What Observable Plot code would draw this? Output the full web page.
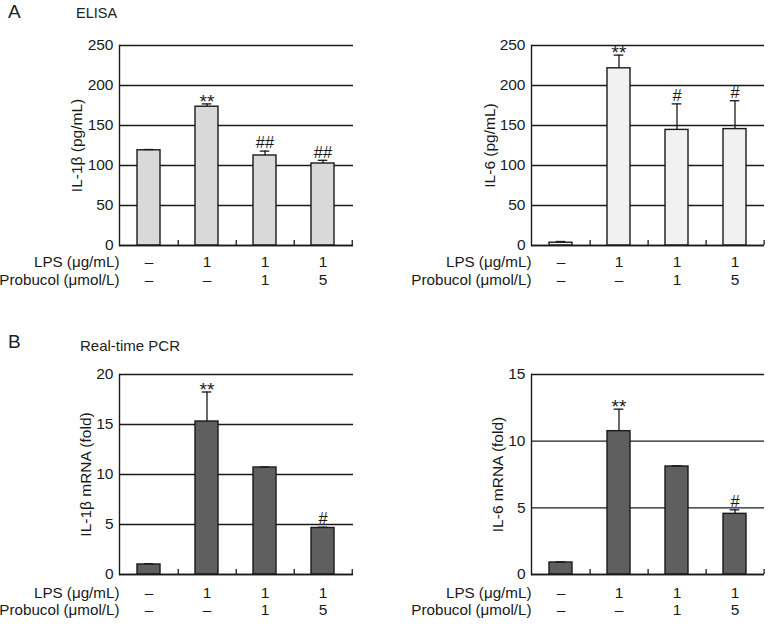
<!DOCTYPE html>
<html>
<head>
<meta charset="utf-8">
<script src="https://cdn.jsdelivr.net/npm/d3@7"></script>
<script src="https://cdn.jsdelivr.net/npm/@observablehq/plot@0.6"></script>
<style>
  html, body { margin: 0; padding: 0; background: #fff; }
  #fig { position: relative; width: 769px; height: 624px; overflow: hidden; background: #fff;
         font-family: 'Liberation Sans', Arial, sans-serif; color: #222; }
  .panel { position: absolute; }
  .lbl { position: absolute; white-space: nowrap; line-height: 1; }
  svg { overflow: visible; }
</style>
</head>
<body>
<div id="fig">
  <div class="lbl" style="left:8px; top:2px; font-size:19px;">A</div>
  <div class="lbl" style="left:76px; top:6px; font-size:14.5px;">ELISA</div>
  <div class="lbl" style="left:8px; top:332px; font-size:19px;">B</div>
  <div class="lbl" style="left:80px; top:338px; font-size:15px;">Real-time PCR</div>
</div>
<script>
// ---- data ----
const groups = ["g1", "g2", "g3", "g4"];
const lpsRow = ["–", "1", "1", "1"];
const probucolRow = ["–", "–", "1", "5"];
const rowLabels = ["LPS (μg/mL)", "Probucol (μmol/L)"];

const elisaIL1b = [119, 173.5, 112.5, 102.5];
const elisaIL1bErr = [1, 3.5, 5.5, 4];
const elisaIL1bSig = ["", "**", "##", "##"];

const elisaIL6 = [3.5, 221.5, 144.5, 145.5];
const elisaIL6Err = [1.5, 16.5, 32.5, 35.5];
const elisaIL6Sig = ["", "**", "#", "#"];

const pcrIL1b = [1.0, 15.3, 10.7, 4.65];
const pcrIL1bErr = [0.08, 2.95, 0.05, 0.08];
const pcrIL1bSig = ["", "**", "", "#"];

const pcrIL6 = [0.9, 10.75, 8.1, 4.55];
const pcrIL6Err = [0.05, 1.65, 0.05, 0.3];
const pcrIL6Sig = ["", "**", "", "#"];

const elisaTicks = [0, 50, 100, 150, 200, 250];
const pcrIL1bTicks = [0, 5, 10, 15, 20];
const pcrIL6Ticks = [0, 5, 10, 15];

const ink = "#1a1a1a";

function panel(o) {
  const data = groups.map((g, i) => ({
    g, v: o.values[i], e: o.errs[i], s: o.sigs[i], lps: lpsRow[i], pro: probucolRow[i]
  }));
  const step = (o.width - o.mL - o.mR) / groups.length;
  const plotH = o.height - o.mT - o.mB;
  const bw = step * 0.4;
  const capInset = (bw - 10) / 2;
  const stars = data.filter(d => d.s.startsWith("*"));
  const hashes = data.filter(d => d.s.startsWith("#"));
  return Plot.plot({
    width: o.width, height: o.height,
    marginLeft: o.mL, marginRight: o.mR, marginTop: o.mT, marginBottom: o.mB,
    style: { fontFamily: "'Liberation Sans', Arial, sans-serif", fontSize: "15px", color: ink, background: "transparent", overflow: "visible" },
    x: { domain: groups, paddingInner: 0.6, paddingOuter: 0.3, axis: null },
    y: { domain: [0, o.yMax], axis: null },
    marks: [
      Plot.gridY(o.ticks, { stroke: ink, strokeOpacity: 1, strokeWidth: 1.4 }),
      Plot.barY(data, { x: "g", y: "v", fill: o.fill, stroke: ink, strokeWidth: 1.4 }),
      Plot.ruleX(data, { x: "g", y1: "v", y2: d => d.v + d.e, stroke: ink, strokeWidth: 1.3 }),
      Plot.tickY(data, { x: "g", y: d => d.v + d.e, insetLeft: capInset, insetRight: capInset, stroke: ink, strokeWidth: 1.3 }),
      Plot.text(stars, { x: "g", y: d => d.v + d.e, text: "s", lineAnchor: "middle", dy: -2, fontSize: 19, fill: ink }),
      Plot.text(hashes, { x: "g", y: d => d.v + d.e, text: "s", lineAnchor: "middle", dy: -8, fontSize: 16.5, fill: ink }),
      Plot.ruleY([0], { stroke: ink, strokeWidth: 1.4 }),
      Plot.ruleX(data, { x: "g", dx: step / 2, insetTop: plotH - 5, stroke: ink, strokeWidth: 1.3 }),
      Plot.frame({ anchor: "left", stroke: ink, strokeWidth: 1.4 }),
      Plot.axisY(o.ticks, { tickSize: 0, tickPadding: 6, label: o.label, labelAnchor: "center", labelArrow: "none", labelOffset: o.labelOffset, fontSize: 15.5, fill: ink }),
      Plot.text(data, { x: "g", text: "lps", frameAnchor: "bottom", dy: o.rowDy[0], fontSize: 15.5, fill: ink }),
      Plot.text(data, { x: "g", text: "pro", frameAnchor: "bottom", dy: o.rowDy[1], fontSize: 15.5, fill: ink }),
      Plot.text([rowLabels[0]], { text: d => d, frameAnchor: "bottom-left", textAnchor: "end", dy: o.rowDy[0], fontSize: 15.2, fill: ink }),
      Plot.text([rowLabels[1]], { text: d => d, frameAnchor: "bottom-left", textAnchor: "end", dy: o.rowDy[1], fontSize: 15.2, fill: ink })
    ]
  });
}

const fig = document.getElementById("fig");
function place(svg, left, top) {
  const wrap = document.createElement("div");
  wrap.className = "panel";
  wrap.style.left = left + "px";
  wrap.style.top = top + "px";
  wrap.appendChild(svg);
  fig.appendChild(wrap);
}

place(panel({
  values: elisaIL1b, errs: elisaIL1bErr, sigs: elisaIL1bSig, fill: "#d9d9d9",
  yMax: 250, ticks: elisaTicks, label: "IL-1β (pg/mL)",
  width: 370, height: 300, mL: 119, mR: 17, mT: 45, mB: 55, labelOffset: 49, rowDy: [21, 39]
}), 0, 0);

place(panel({
  values: elisaIL6, errs: elisaIL6Err, sigs: elisaIL6Sig, fill: "#f1f1f1",
  yMax: 250, ticks: elisaTicks, label: "IL-6 (pg/mL)",
  width: 385, height: 300, mL: 147, mR: 5, mT: 45, mB: 55, labelOffset: 48, rowDy: [21, 39]
}), 384, 0);

place(panel({
  values: pcrIL1b, errs: pcrIL1bErr, sigs: pcrIL1bSig, fill: "#5f5f5f",
  yMax: 20, ticks: pcrIL1bTicks, label: "IL-1β mRNA (fold)",
  width: 370, height: 314, mL: 119, mR: 17, mT: 64, mB: 50, labelOffset: 40, rowDy: [23, 40]
}), 0, 310);

place(panel({
  values: pcrIL6, errs: pcrIL6Err, sigs: pcrIL6Sig, fill: "#5f5f5f",
  yMax: 15, ticks: pcrIL6Ticks, label: "IL-6 mRNA (fold)",
  width: 385, height: 314, mL: 147, mR: 5, mT: 64, mB: 50, labelOffset: 40, rowDy: [23, 40]
}), 384, 310);
</script>
</body>
</html>
